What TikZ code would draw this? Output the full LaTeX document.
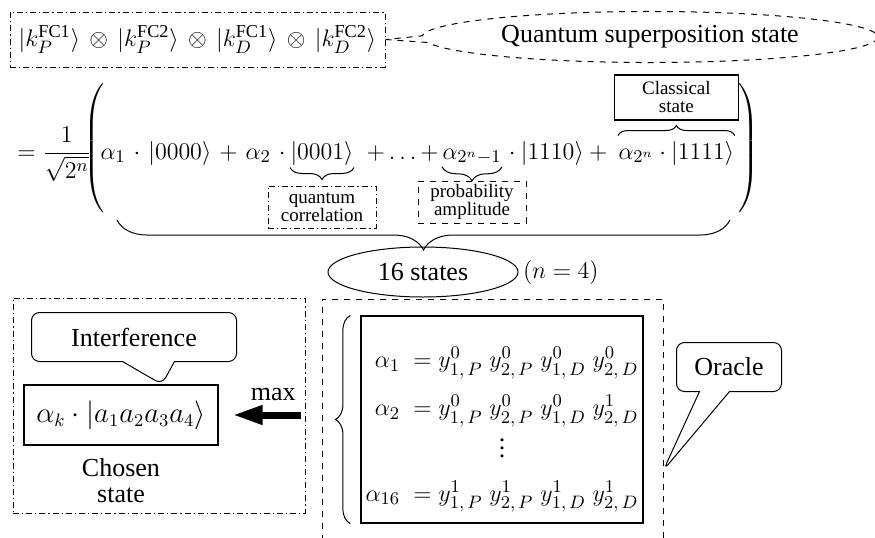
\documentclass[tikz,border=0pt]{standalone}
\usepackage{amsmath}
\usepackage{fontspec}
\setmainfont{Liberation Serif}
\usetikzlibrary{arrows.meta,positioning,shapes.geometric,shapes.callouts,decorations.pathreplacing}

\newcommand{\qket}[1]{\lvert #1\rangle}

\begin{document}
\begin{tikzpicture}[
    x = 0.5pt, y = -0.5pt, %
    > = {Triangle[length=15pt,width=9pt]}, %
    every node/.style = {font=\fontsize{13}{15}\selectfont}, %
    line width = 0.5pt %
    ]

    \tikzset{
    eq/.style = {inner sep=0pt, anchor=base west},
    curly/.style = {decorate, decoration={brace, amplitude=#1}},
    dashdot/.style = {dash pattern=on 3pt off 1.5pt on 0.6pt off 1.5pt},
    note/.style = {draw, inner sep=1pt, align=center, minimum width=54pt,
        minimum height=21pt, font=\fontsize{9.5}{9}\selectfont},
    boxed/.style = {draw, line width=0.6pt, align=center},
    bubble/.style = {rectangle callout, draw, rounded corners=4pt, align=center}
    }

    \useasboundingbox (0,0) rectangle (875,537);

    % superposition state
    \node[draw, dashdot, minimum width=187.5pt, minimum height=27.5pt] (ket) at (197.5,39.5)
        {$\qket{k_P^{\mathrm{FC1}}}\,\otimes\,\qket{k_P^{\mathrm{FC2}}}\,\otimes\,
          \qket{k_D^{\mathrm{FC1}}}\,\otimes\,\qket{k_D^{\mathrm{FC2}}}$};
    \node[ellipse callout, draw, dashed, minimum width=228pt, minimum height=25pt,
        callout absolute pointer={(ket.east)}] (qs) at (650,37) {Quantum superposition state};

    % expansion
    \node[eq] (pre) at (17,159) {$=\dfrac{1}{\sqrt{2^n}}$};
    \node[inner sep=0pt] (lp) at (95,150) {$\left(\vrule height 31pt depth 31pt width 0pt\right.$};
    \node[eq] (t1) at (100,159)
        {$\medmuskip=6mu\relax \alpha_1\cdot\qket{0000}+\alpha_2\cdot{}$};
    \node[eq] (k2) at (290,159) {$\qket{0001}$};
    \node[eq] (t2) at (366,159) {$+\ldots+$};
    \node[eq] (a15) at (442,159) {$\alpha_{2^n-1}$};
    \node[eq] (t3) at (503,159) {${}\cdot\qket{1110}+{}$};
    \node[eq] (cl) at (618,159) {$\alpha_{2^n}\cdot\qket{1111}$};
    \node[inner sep=0pt] (rp) at (748,150) {$\left.\vrule height 31pt depth 31pt width 0pt\right)$};

    \draw[curly=6pt] ([yshift=-1pt]k2.south east) -- ([yshift=-1pt]k2.south west);
    \node[note, dashdot] (qc) [below=10pt of k2] {quantum\\correlation};
    \draw[curly=7pt] ([yshift=-1pt]a15.south east) -- ([yshift=-1pt]a15.south west);
    \node[note, dashed] (pa) [below=8pt of a15] {probability\\amplitude};
    \draw[curly=5pt] ([yshift=2.5pt]cl.north west) -- ([yshift=2.5pt]cl.north east);
    \node[boxed, minimum width=62pt, minimum height=22.5pt, inner sep=1pt,
        font=\fontsize{9.5}{9}\selectfont] (cs) [above=10pt of cl] {Classical\\state};

    \coordinate (bl) at (117,220);
    \coordinate (br) at (730,220);
    \draw[curly=15pt] (br) -- (bl);
    \node[draw, ellipse, minimum width=95pt, minimum height=25pt, inner sep=0pt] (st) at (423,272) {16 states};
    \node[inner sep=0pt] (nn) [right=2pt of st] {$(n=4)$};

    % chosen state
    \node[draw, dashdot, minimum width=146pt, minimum height=107.5pt] (lbox) at (159,405.5) {};
    \node[boxed, minimum width=97pt, minimum height=30pt, font=\fontsize{13.5}{16}\selectfont] (ch) at (121,415)
        {$\alpha_k\cdot\qket{a_1a_2a_3a_4}$};
    \node[align=center, font=\fontsize{13}{13}\selectfont] (chl) [below=3pt of ch] {Chosen\\state};
    \node[bubble, minimum width=102.5pt, minimum height=24.5pt, callout pointer width=26pt,
        callout absolute pointer={([xshift=20.5pt]ch.north)}] (itf) at (134,337) {Interference};

    % amplitudes
    \node[draw, dashed, minimum width=170.5pt, minimum height=123pt] (rbox) at (492.5,422) {};
    \node[boxed, minimum width=141pt, minimum height=103.5pt] (eqs) at (502,419.5) {};
    \node[inner sep=0pt] (amps) at ([yshift=-5pt]eqs.center)
        {$\begin{array}{r@{\;\;=\;}l}
          \alpha_1 & y^{0}_{1,\,P}\;y^{0}_{2,\,P}\;y^{0}_{1,\,D}\;y^{0}_{2,\,D}\\[9pt]
          \alpha_2 & y^{0}_{1,\,P}\;y^{0}_{2,\,P}\;y^{0}_{1,\,D}\;y^{1}_{2,\,D}\\[1pt]
          \multicolumn{2}{c}{\vdots}\\[7pt]
          \alpha_{16} & y^{1}_{1,\,P}\;y^{1}_{2,\,P}\;y^{1}_{1,\,D}\;y^{1}_{2,\,D}
          \end{array}$};
    \draw[curly=7.5pt] ([xshift=-5pt]eqs.south west) -- ([xshift=-5pt]eqs.north west);
    \coordinate (otip) at ([yshift=-24pt]rbox.east);
    \node[bubble, minimum width=52.5pt, minimum height=24.5pt, callout pointer width=15pt,
        callout absolute pointer={(otip)}] (orc) at (729,367) {Oracle};

    \draw[->, line width=3.5pt] ([xshift=-2.5pt]lbox.east |- ch.east) -- ([xshift=7pt]ch.east)
        node[pos=0.4, above=2pt] {max};

    \end{tikzpicture}
\end{document}
